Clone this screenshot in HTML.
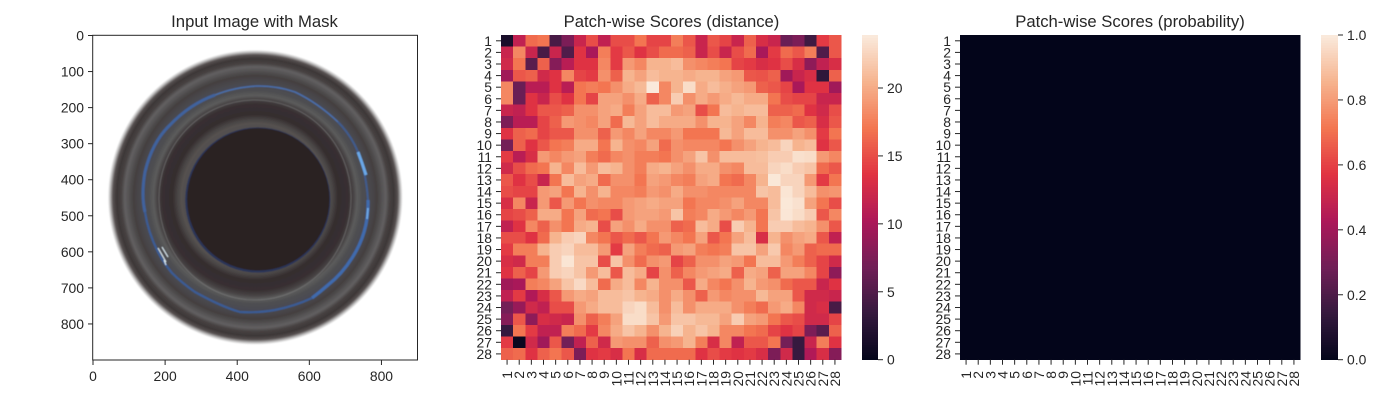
<!DOCTYPE html>
<html>
<head>
<meta charset="utf-8">
<style>
html,body{margin:0;padding:0;background:#fff;width:1400px;height:400px;overflow:hidden}
svg{display:block}
text{font-family:"Liberation Sans",Arial,sans-serif;fill:#262626}
.t{font-size:16.67px}
.k{font-size:13.9px}
</style>
</head>
<body>
<svg id="fig" xmlns="http://www.w3.org/2000/svg" width="1400" height="400" viewBox="0 0 1400 400">
<defs>
<radialGradient id="capGrad" gradientUnits="userSpaceOnUse" cx="255.3" cy="197.3" r="147.5">
<stop offset="0.49" stop-color="#524f4f"/>
<stop offset="0.5" stop-color="#565250"/>
<stop offset="0.53" stop-color="#474343"/>
<stop offset="0.56" stop-color="#362e2f"/>
<stop offset="0.63" stop-color="#372f31"/>
<stop offset="0.665" stop-color="#474344"/>
<stop offset="0.69" stop-color="#5c5c5c"/>
<stop offset="0.72" stop-color="#4f4f51"/>
<stop offset="0.765" stop-color="#4a4a52"/>
<stop offset="0.79" stop-color="#48464a"/>
<stop offset="0.825" stop-color="#444040"/>
<stop offset="0.86" stop-color="#555354"/>
<stop offset="0.885" stop-color="#626061"/>
<stop offset="0.91" stop-color="#474242"/>
<stop offset="0.94" stop-color="#3d3737"/>
<stop offset="0.965" stop-color="#565050"/>
<stop offset="0.985" stop-color="#c0bfbf"/>
<stop offset="1" stop-color="#ffffff"/>
</radialGradient>
<clipPath id="imgClip"><rect x="93" y="35.5" width="324.5" height="324.5"/></clipPath>
<filter id="soft" x="-5%" y="-5%" width="110%" height="110%"><feGaussianBlur stdDeviation="0.55"/></filter>
</defs>
<rect x="0" y="0" width="1400" height="400" fill="#fff"/>
<g clip-path="url(#imgClip)">
<g filter="url(#soft)">
<circle cx="255.3" cy="197.3" r="147.5" fill="url(#capGrad)"/>
<g opacity="0.88">
<path d="M145 212 Q141 195 145 172 Q152 142 170 125 Q190 104 215 95" fill="none" stroke="#3f66a8" stroke-width="3"/>
<path d="M215 95 Q235 87 258 86 Q278 86 295 92 Q318 103 338 122" fill="none" stroke="#4a72b4" stroke-width="1.6"/>
<path d="M338 122 Q351 135 358 152 Q366 172 368 200" fill="none" stroke="#405f96" stroke-width="2"/>
<path d="M368 200 Q369 232 352 258 Q342 274 328 285 Q320 292 312 298" fill="none" stroke="#3f70ba" stroke-width="3.2"/>
<path d="M312 298 Q295 306 275 310 Q258 313 240 312 Q222 307 195 292 Q182 283 172 273 Q163 262 158 252 Q148 232 145 212" fill="none" stroke="#385f9e" stroke-width="2.2"/>
</g>
<path d="M159 200 A96 98 0 0 1 351 196 A96 102 0 0 1 159 200" fill="none" stroke="#7c7c7c" stroke-width="0.8" opacity="0.7"/>
<path d="M358 152 L362 163 L366 175" fill="none" stroke="#6aa8e8" stroke-width="3"/>
<path d="M368 208 L367 219" fill="none" stroke="#70a8e6" stroke-width="1.8"/>
<path d="M158 248 L166 262 M162 247 L168 257 M164 260 L166 265" fill="none" stroke="#d8e6ee" stroke-width="1.1"/>
<circle cx="257.8" cy="200" r="72.6" fill="#2a3558"/>
<circle cx="258.3" cy="199.3" r="71.2" fill="#2c2124"/>
</g>
</g>
<rect x="92.7" y="35.3" width="324.8" height="324.7" fill="none" stroke="#262626" stroke-width="1"/>
<text class="t" x="254.5" y="27" text-anchor="middle">Input Image with Mask</text>
<text class="t" x="671.5" y="27" text-anchor="middle">Patch-wise Scores (distance)</text>
<text class="t" x="1130" y="27" text-anchor="middle">Patch-wise Scores (probability)</text>
</svg>
<script>
const imageXTicks = [0, 200, 400, 600, 800];
const imageYTicks = [0, 100, 200, 300, 400, 500, 600, 700, 800];
const patchLabels = ["1","2","3","4","5","6","7","8","9","10","11","12","13","14","15","16","17","18","19","20","21","22","23","24","25","26","27","28"];
const distanceScores = [
[1.5,11.5,16.5,17,4.5,7.5,12,15,11.5,15,15,17,14.5,14.5,17.5,15.5,12,15.5,14.5,12,16,13,12,6.5,7.5,4,14,15.5],
[12,18,12,4.5,12,5,13.5,10,17.5,14,15.5,13.5,15,16.5,16.5,16,12,15,12,15,16.5,10,14,16.5,15.5,17.5,5,15.5],
[12.5,17,5.5,16,8,11,13.5,13.5,18,14,19,18,20.5,20.5,21,18.5,18,17.5,17,14.5,14,13,13.5,15,13,8.5,11.5,13],
[9.5,15.5,16,12.5,13.5,18,14.5,14,18.5,16,20.5,19.5,21,20.5,20.5,20,20.5,20.5,19.5,19,15.5,15.3,16,9.5,12,13,3,16],
[18,6.5,11,11,13.5,11,17,17.5,17,18.5,20,20.8,23.8,18,20.5,23,20,21,20.2,19.5,19,16,15.5,14.5,10,13.5,13.5,9.5],
[18,6.5,13.5,12,15,13.5,17,14.5,19.5,19.5,18.5,20,16,18,22,18.5,20,19,20,20.8,20,20,17,15,14.5,14.5,12,12],
[12,11.5,13.5,15.5,15.5,16,18.5,18.5,19.5,20,17.5,19.5,21,21,19,19.5,15,17,21,20.5,21,21,16,16,16.5,13.5,12.5,15],
[7.5,11,11,14.5,16,19,18.5,18,19.5,16.5,20.8,19.5,21,20,20,20,18.5,20.5,20.5,19.5,18,20.5,17.5,18,15.5,16,13,15.5],
[13.5,16,16.5,14.5,15.5,15.5,18.5,18.5,16,19,18,19.5,18,18,19,17,17,17,20.8,19.5,21,21,18.5,18.5,19.5,18.5,14,17],
[7,16,13.5,15.5,17,17.5,20,20,17,20.5,18.5,18,19.5,16.5,18.5,18,18,18,17,18.5,19.5,20.5,21,22.5,20.5,21,13.5,15.5],
[14,11,13,19,18,19,19.5,17.5,16.5,18,18.5,17.5,17.5,17,18.5,19.5,21.5,18.5,21,21,21,21.2,22,22,23.2,23,19,18],
[12.5,15,16.5,17,20.5,18,21,19,21,20.5,18.5,17.5,20,20.5,19.5,18.5,20,20,18.5,18,21,21,22.5,23,22,21.5,16.5,15.5],
[15.5,13.5,15,12,17,21,19.5,20,16.5,18.5,18.5,17,19.5,19,18,17.5,19.5,20,17,16.5,18,20.5,23.7,22.5,22.5,19,14,17],
[15,14.5,14.5,19,19.5,17,20.5,18.5,20.5,18,18,17.5,19,18.5,20,18.5,18.5,18,18,18,18,21.5,21,23.5,22.5,21,18.5,18.8],
[13,18,12,19,15.5,19,17,18.5,18,18,19,19.5,20,19.5,19.5,17,18,18,18.5,19.5,18,18,21,23.7,23.3,19.5,17,15],
[14.5,15,16,20,20,17,19.5,16.5,17,15,19,19.5,19.5,19,21.5,17.5,18,20,19,18,19,17,21.5,23.6,23,22,15.5,18],
[11.5,13.5,18,16,18.5,17,20,20.5,15,19.5,18.5,20,18.5,18.5,16,16.5,21,20,15,22,20.5,17,22,22,21,20.5,18.5,15.5],
[15,15,13.5,16.5,20.5,22,22.5,18,17,15.5,16.5,15.5,17,19,18,17,19.5,15.5,17,19.5,21,13,20.5,18.5,19.5,20,15.5,11.5],
[14,17.5,17.5,20.5,22,22.5,21,21,19,14,19.5,17.5,16.5,16,19,19.5,17.5,17,17.5,21.5,21.5,19.5,21.8,18,19,16,16.5,16.5],
[13,12.5,17.5,17.5,22,23.5,21.5,21.5,15,21.5,18.5,16.5,18.5,19,14.5,16,18.5,18.5,19.5,19,17,21,21,19,17.5,16,14.5,12.5],
[13.5,16,14.5,19,22,22.5,21.5,19,21,15.5,21,20,14.5,18.5,16,18,19,19.5,20,16,20,19.5,16,19.5,19.5,18,14.5,8.5],
[9.5,10,17.5,18,19.5,21.5,22.8,21,16.5,20,21,18,20.5,18.5,18.5,15.5,20,18,17,18.5,20.5,19,18.5,16.5,15.5,15.5,12,13.5],
[11.5,14,10.5,13,15.5,19,20,19.5,21,21,21.5,20.5,20,18.5,20,18.5,16,19,18,18.5,18.5,20.8,19.5,19.5,15.5,12.5,12.5,12],
[7,9,12.5,11.5,15,15,19,20,21,21,22.5,23,21,18.5,21,18.5,20,20,20,18.5,17.5,16.5,19,20,18,12.5,13,4.5],
[8,15.5,8.5,13,12.5,12,18.5,16,17.5,19.5,23,23,21.5,19,21.5,21.5,20.8,20.8,19.5,22,19.5,19,17,15.5,15,12.5,12.5,14.5],
[3.5,17,14,11.5,11.5,17.5,16.5,14,18,20,21.5,20.5,18.5,20.5,22.3,20.5,21.5,20.5,18,18,17,16.5,14.5,13.5,14.5,7.5,5.5,16],
[14,0.5,12.5,9.5,15.5,7,11.5,16,12.5,19,18.5,18.5,16,18.5,19,20.5,17.5,13,18,11.5,15.5,15.5,17,7,3.5,12,17.5,13.5],
[16,16.5,13.5,16,17,15.5,7.5,13.5,14,13,17,13,16.5,16.5,16.5,16.5,13.5,15,14,13.5,14,13,7.5,12.5,3.5,10.5,13,8]
];
const probabilityScores = [
[0,0,0,0,0,0,0,0,0,0,0,0,0,0,0,0,0,0,0,0,0,0,0,0,0,0,0,0],
[0,0,0,0,0,0,0,0,0,0,0,0,0,0,0,0,0,0,0,0,0,0,0,0,0,0,0,0],
[0,0,0,0,0,0,0,0,0,0,0,0,0,0,0,0,0,0,0,0,0,0,0,0,0,0,0,0],
[0,0,0,0,0,0,0,0,0,0,0,0,0,0,0,0,0,0,0,0,0,0,0,0,0,0,0,0],
[0,0,0,0,0,0,0,0,0,0,0,0,0,0,0,0,0,0,0,0,0,0,0,0,0,0,0,0],
[0,0,0,0,0,0,0,0,0,0,0,0,0,0,0,0,0,0,0,0,0,0,0,0,0,0,0,0],
[0,0,0,0,0,0,0,0,0,0,0,0,0,0,0,0,0,0,0,0,0,0,0,0,0,0,0,0],
[0,0,0,0,0,0,0,0,0,0,0,0,0,0,0,0,0,0,0,0,0,0,0,0,0,0,0,0],
[0,0,0,0,0,0,0,0,0,0,0,0,0,0,0,0,0,0,0,0,0,0,0,0,0,0,0,0],
[0,0,0,0,0,0,0,0,0,0,0,0,0,0,0,0,0,0,0,0,0,0,0,0,0,0,0,0],
[0,0,0,0,0,0,0,0,0,0,0,0,0,0,0,0,0,0,0,0,0,0,0,0,0,0,0,0],
[0,0,0,0,0,0,0,0,0,0,0,0,0,0,0,0,0,0,0,0,0,0,0,0,0,0,0,0],
[0,0,0,0,0,0,0,0,0,0,0,0,0,0,0,0,0,0,0,0,0,0,0,0,0,0,0,0],
[0,0,0,0,0,0,0,0,0,0,0,0,0,0,0,0,0,0,0,0,0,0,0,0,0,0,0,0],
[0,0,0,0,0,0,0,0,0,0,0,0,0,0,0,0,0,0,0,0,0,0,0,0,0,0,0,0],
[0,0,0,0,0,0,0,0,0,0,0,0,0,0,0,0,0,0,0,0,0,0,0,0,0,0,0,0],
[0,0,0,0,0,0,0,0,0,0,0,0,0,0,0,0,0,0,0,0,0,0,0,0,0,0,0,0],
[0,0,0,0,0,0,0,0,0,0,0,0,0,0,0,0,0,0,0,0,0,0,0,0,0,0,0,0],
[0,0,0,0,0,0,0,0,0,0,0,0,0,0,0,0,0,0,0,0,0,0,0,0,0,0,0,0],
[0,0,0,0,0,0,0,0,0,0,0,0,0,0,0,0,0,0,0,0,0,0,0,0,0,0,0,0],
[0,0,0,0,0,0,0,0,0,0,0,0,0,0,0,0,0,0,0,0,0,0,0,0,0,0,0,0],
[0,0,0,0,0,0,0,0,0,0,0,0,0,0,0,0,0,0,0,0,0,0,0,0,0,0,0,0],
[0,0,0,0,0,0,0,0,0,0,0,0,0,0,0,0,0,0,0,0,0,0,0,0,0,0,0,0],
[0,0,0,0,0,0,0,0,0,0,0,0,0,0,0,0,0,0,0,0,0,0,0,0,0,0,0,0],
[0,0,0,0,0,0,0,0,0,0,0,0,0,0,0,0,0,0,0,0,0,0,0,0,0,0,0,0],
[0,0,0,0,0,0,0,0,0,0,0,0,0,0,0,0,0,0,0,0,0,0,0,0,0,0,0,0],
[0,0,0,0,0,0,0,0,0,0,0,0,0,0,0,0,0,0,0,0,0,0,0,0,0,0,0,0],
[0,0,0,0,0,0,0,0,0,0,0,0,0,0,0,0,0,0,0,0,0,0,0,0,0,0,0,0]
];
const distanceBarTicks = [0, 5, 10, 15, 20];
const distanceBarLabels = ["0", "5", "10", "15", "20"];
const probabilityBarTicks = [0, 0.2, 0.4, 0.6, 0.8, 1];
const probabilityBarLabels = ["0.0", "0.2", "0.4", "0.6", "0.8", "1.0"];
const distanceMax = 23.9;
const probabilityMax = 1;

const rocket = [[3,5,26],[53,25,62],[112,31,87],[173,23,89],[225,51,66],[243,118,81],[246,180,143],[250,235,221]];
const NS = 'http://www.w3.org/2000/svg';
const fig = document.getElementById('fig');

function shade(t) {
  const c = Math.max(0, Math.min(1, t)) * (rocket.length - 1);
  const i = Math.min(Math.floor(c), rocket.length - 2);
  const f = c - i;
  const m = [0, 1, 2].map(function (k) { return Math.round(rocket[i][k] + (rocket[i + 1][k] - rocket[i][k]) * f); });
  return 'rgb(' + m.join(',') + ')';
}
function make(tag, attrs, parent) {
  const n = document.createElementNS(NS, tag);
  for (const key in attrs) n.setAttribute(key, attrs[key]);
  parent.appendChild(n);
  return n;
}
function tickLine(parent, x1, y1, x2, y2) {
  const tick = make('line', {x1: x1, y1: y1, x2: x2, y2: y2, stroke: '#262626', 'stroke-width': 1}, parent);
  
  
}
function tickText(parent, str, attrs) {
  const label = make('text', Object.assign({'class': 'k'}, attrs), parent);
  label.textContent = str;
  
  
}

/* image axes */
const imgX = function (v) { return 93 + v * 324.5 / 900; };
const imgY = function (v) { return 35.5 + v * 324.5 / 900; };
const imageAxis = make('g', {}, fig);


imageXTicks.forEach(function (v) {
  tickLine(imageAxis, imgX(v), 360, imgX(v), 365);
  tickText(imageAxis, String(v), {x: imgX(v), y: 381, 'text-anchor': 'middle'});
});
imageYTicks.forEach(function (v) {
  tickLine(imageAxis, 88, imgY(v), 93, imgY(v));
  tickText(imageAxis, String(v), {x: 84, y: imgY(v) + 5, 'text-anchor': 'end'});
});

/* heatmaps */
function heatmap(name, values, max, left, right, top, bottom) {
  const cw = (right - left) / patchLabels.length;
  const ch = (bottom - top) / patchLabels.length;
  const xAt = function (i) { return left + i * cw; };
  const yAt = function (i) { return top + i * ch; };
  const g = make('g', {'shape-rendering': 'crispEdges'}, fig);
  
  
  values.forEach(function (row, r) {
    row.forEach(function (v, c) {
      const cell = make('rect', {x: xAt(c), y: yAt(r), width: cw + 0.4, height: ch + 0.4, fill: shade(v / max)}, g);
      
      
    });
  });
  const axis = make('g', {}, fig);
  
  
  patchLabels.forEach(function (lab, i) {
    const cx = xAt(i + 0.5);
    const cy = yAt(i + 0.5);
    tickLine(axis, cx, bottom, cx, bottom + 5);
    tickText(axis, lab, {x: cx + 5, y: 371, 'text-anchor': 'end', transform: 'rotate(-90 ' + (cx + 5) + ' 371)'});
    tickLine(axis, left - 5, cy, left, cy);
    tickText(axis, lab, {x: left - 9, y: cy + 5, 'text-anchor': 'end'});
  });
}
heatmap('distance-heatmap', distanceScores, distanceMax, 501, 841, 35, 359.7);
heatmap('probability-heatmap', probabilityScores, probabilityMax, 960, 1300, 35, 359.7);

/* colorbars */
function colorbar(name, left, right, top, bottom, max, ticks, labels) {
  const barY = function (v) { return bottom - (v / max) * (bottom - top); };
  const g = make('g', {}, fig);
  
  
  const steps = 128;
  const strip = make('g', {'shape-rendering': 'crispEdges'}, g);
  for (let i = 0; i < steps; i++) {
    const v0 = max * i / steps;
    const v1 = max * (i + 1) / steps;
    const seg = make('rect', {x: left, y: barY(v1), width: right - left, height: barY(v0) - barY(v1) + 0.4, fill: shade((i + 0.5) / steps)}, strip);
    
    
  }
  ticks.forEach(function (v, i) {
    tickLine(g, right, barY(v), right + 5, barY(v));
    tickText(g, labels[i], {x: right + 9, y: barY(v) + 5, 'text-anchor': 'start'});
  });
}
colorbar('distance-colorbar', 862, 878, 35, 359.7, distanceMax, distanceBarTicks, distanceBarLabels);
colorbar('probability-colorbar', 1321, 1338, 35, 359.7, probabilityMax, probabilityBarTicks, probabilityBarLabels);
</script>
</body>
</html>
